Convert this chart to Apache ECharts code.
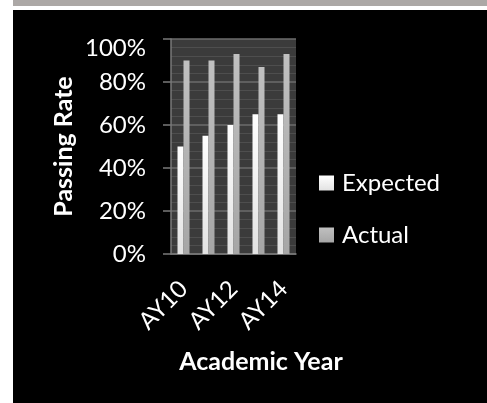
<!DOCTYPE html>
<html>
<head>
<meta charset="utf-8">
<script src="https://cdn.jsdelivr.net/npm/echarts@6/dist/echarts.min.js"></script>
<style>
html,body{margin:0;padding:0;background:#fff;}
#band{position:absolute;left:13px;top:0;width:474px;height:6px;background:#aca8a6;}
#chart{position:absolute;left:13px;top:10px;width:474px;height:393px;background:#000;}
</style>
</head>
<body>
<div id="band"></div>
<div id="chart"></div>
<script>
const categories = ['AY10', 'AY11', 'AY12', 'AY13', 'AY14'];
const expected = [50, 55, 60, 65, 65];
const actual = [90, 90, 93, 87, 93];
const yTicks = [0, 20, 40, 60, 80, 100];

const FONT = 'Lato';
const LBL = 24;
const TTL = 25;
const chart = echarts.init(document.getElementById('chart'));
chart.setOption({
  backgroundColor: '#000',
  animation: false,
  textStyle: { fontFamily: FONT },
  grid: { left: 158, right: 191, top: 29, bottom: 149, show: true, backgroundColor: '#3b3b3b', borderWidth: 0 },
  legend: {
    orient: 'vertical', left: 301, top: 156,
    itemWidth: 15, itemHeight: 15, itemGap: 28,
    icon: 'rect',
    textStyle: { color: '#fff', fontSize: LBL, fontFamily: FONT, padding: [0, 0, 0, 3] },
    data: ['Expected', 'Actual']
  },
  xAxis: {
    type: 'category', data: categories,
    name: 'Academic Year', nameLocation: 'middle', nameGap: 95,
    nameTextStyle: { color: '#fff', fontSize: TTL, fontWeight: 'bold', fontFamily: FONT, padding: [0, 0, 0, 55] },
    axisLine: { show: true, lineStyle: { color: '#7a7a7a', width: 1.5 } },
    axisTick: { show: false },
    axisLabel: { color: '#fff', fontSize: LBL, interval: 1, rotate: 45, margin: 31, fontFamily: FONT },
    splitLine: { show: false }
  },
  yAxis: {
    type: 'value', min: 0, max: 100, interval: 20,
    name: 'Passing Rate', nameLocation: 'middle', nameGap: 95, nameRotate: 90,
    nameTextStyle: { color: '#fff', fontSize: TTL, fontWeight: 'bold', fontFamily: FONT },
    axisLine: { show: true, lineStyle: { color: '#7a7a7a', width: 1.5 } },
    axisTick: { show: true, inside: false, length: 8, lineStyle: { color: '#7a7a7a', width: 1.5 } },
    axisLabel: {
      color: '#fff', fontSize: LBL, margin: 25, fontFamily: FONT,
      formatter: v => v === 100 ? '{t|' + v + '%}' : v + '%',
      rich: { t: { color: '#fff', fontSize: LBL, fontFamily: FONT, padding: [18, 0, 0, 0] } }
    },
    splitLine: { show: true, lineStyle: { color: '#6c6c6c', width: 1.5 } },
    minorTick: { show: false, splitNumber: 5 },
    minorSplitLine: { show: true, lineStyle: { color: '#4e4e4e', width: 1 } }
  },
  series: [
    {
      name: 'Expected', type: 'bar', data: expected, barWidth: 6, barGap: '0%',
      itemStyle: { color: new echarts.graphic.LinearGradient(0, 0, 0, 1, [{ offset: 0, color: '#ffffff' }, { offset: 1, color: '#e2e2e2' }]) }
    },
    {
      name: 'Actual', type: 'bar', data: actual, barWidth: 6, barGap: '0%',
      itemStyle: { color: new echarts.graphic.LinearGradient(0, 0, 0, 1, [{ offset: 0, color: '#c0c0c0' }, { offset: 1, color: '#a6a6a6' }]) }
    }
  ]
});
</script>
</body>
</html>
